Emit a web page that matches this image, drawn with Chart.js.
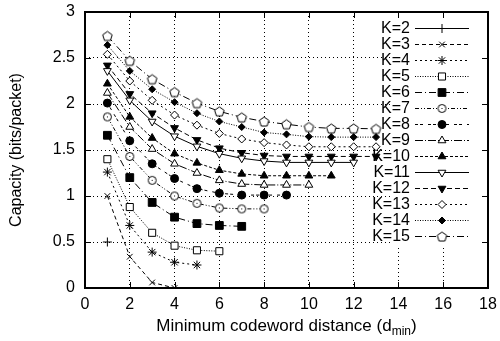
<!DOCTYPE html>
<html>
<head>
<meta charset="utf-8">
<script src="https://cdn.jsdelivr.net/npm/chart.js@4.4.1/dist/chart.umd.min.js"></script>
<style>
  html, body { margin: 0; padding: 0; background: #fff; }
  #wrap { width: 500px; height: 341px; }
</style>
</head>
<body>
<div id="wrap"><canvas id="cap_graph" width="500" height="341"></canvas></div>
<script>
// minimum codeword distance (x)
const dmin = [1, 2, 3, 4, 5, 6, 7, 8, 9, 10, 11, 12, 13];
const kLabels = ['K=2', 'K=3', 'K=4', 'K=5', 'K=6', 'K=7', 'K=8', 'K=9',
                 'K=10', 'K=11', 'K=12', 'K=13', 'K=14', 'K=15'];
// capacity (bits/packet), one array per K
const capK2  = [0.5];
const capK3  = [1.0, 0.34, 0.06, 0.0];
const capK4  = [1.26, 0.68, 0.39, 0.28, 0.25];
const capK5  = [1.40, 0.88, 0.60, 0.46, 0.41, 0.40];
const capK6  = [1.66, 1.20, 0.93, 0.77, 0.70, 0.68, 0.67];
const capK7  = [1.86, 1.43, 1.17, 1.00, 0.92, 0.87, 0.86, 0.86];
const capK8  = [2.01, 1.60, 1.35, 1.19, 1.08, 1.03, 1.01, 1.01, 1.01];
const capK9  = [2.12, 1.75, 1.51, 1.35, 1.25, 1.17, 1.13, 1.12, 1.12, 1.12];
const capK10 = [2.22, 1.86, 1.63, 1.46, 1.36, 1.28, 1.24, 1.22, 1.22, 1.22, 1.22];
const capK11 = [2.36, 2.04, 1.81, 1.65, 1.54, 1.46, 1.41, 1.38, 1.365, 1.365, 1.365, 1.365];
const capK12 = [2.42, 2.11, 1.90, 1.74, 1.61, 1.52, 1.47, 1.44, 1.43, 1.43, 1.43, 1.43, 1.43];
const capK13 = [2.54, 2.25, 2.04, 1.88, 1.77, 1.68, 1.62, 1.58, 1.555, 1.535, 1.535, 1.535, 1.535];
const capK14 = [2.64, 2.36, 2.16, 2.02, 1.90, 1.81, 1.75, 1.69, 1.67, 1.645, 1.64, 1.64, 1.64];
const capK15 = [2.74, 2.47, 2.27, 2.13, 2.01, 1.92, 1.855, 1.81, 1.78, 1.75, 1.735, 1.735, 1.73];

const xTicks = ['0', '2', '4', '6', '8', '10', '12', '14', '16', '18'];
const yTicks = ['0', '0.5', '1', '1.5', '2', '2.5', '3'];

const allCaps = [capK2, capK3, capK4, capK5, capK6, capK7, capK8, capK9,
                 capK10, capK11, capK12, capK13, capK14, capK15];

const FONT = '"Liberation Sans", Arial, Helvetica, sans-serif';

// small custom markers
function pentagonMarker() {
  const c = document.createElement('canvas');
  c.width = 13; c.height = 13;
  const g = c.getContext('2d');
  g.beginPath();
  for (let i = 0; i < 5; i++) {
    const a = -Math.PI / 2 + i * 2 * Math.PI / 5;
    const px = 6.5 + 5 * Math.cos(a), py = 7 + 5 * Math.sin(a);
    if (i === 0) g.moveTo(px, py); else g.lineTo(px, py);
  }
  g.closePath();
  g.fillStyle = '#fff'; g.fill();
  g.strokeStyle = '#000'; g.lineWidth = 1; g.stroke();
  return c;
}
function dotCircleMarker() {
  const c = document.createElement('canvas');
  c.width = 11; c.height = 11;
  const g = c.getContext('2d');
  g.beginPath(); g.arc(5.5, 5.5, 4, 0, Math.PI * 2);
  g.fillStyle = '#fff'; g.fill();
  g.strokeStyle = '#000'; g.lineWidth = 1; g.stroke();
  g.fillStyle = '#000'; g.fillRect(5, 5, 1, 1);
  return c;
}

// marker / dash style for each K
const styles = [
  { ps: 'cross',    r: 4.5, fill: '#000', dash: [] },
  { ps: 'crossRot', r: 4,   fill: '#000', dash: [4, 3] },
  { ps: 'star',     r: 4.5, fill: '#000', dash: [2, 3] },
  { ps: 'rect',     r: 5,   fill: '#fff', dash: [1, 1.5] },
  { ps: 'rect',     r: 5.5, fill: '#000', dash: [7, 3, 1, 3] },
  { ps: dotCircleMarker(), r: 4, fill: '#fff', dash: [4, 2, 1, 2, 1, 2] },
  { ps: 'circle',   r: 4,   fill: '#000', dash: [3, 2, 3, 5] },
  { ps: 'triangle', r: 4.5, fill: '#fff', dash: [8, 2, 1, 2] },
  { ps: 'triangle', r: 4.5, fill: '#000', dash: [3, 2] },
  { ps: 'triangle', r: 4.5, fill: '#fff', dash: [], rot: 180 },
  { ps: 'triangle', r: 4.5, fill: '#000', dash: [5, 3], rot: 180 },
  { ps: 'rectRot',  r: 4,   fill: '#fff', dash: [2, 3] },
  { ps: 'rectRot',  r: 3.5, fill: '#000', dash: [1, 1.5] },
  { ps: pentagonMarker(), r: 5, fill: '#fff', dash: [7, 3, 1, 3] }
];

const datasets = allCaps.map((vals, i) => ({
  label: kLabels[i],
  data: vals.map((v, j) => ({ x: dmin[j], y: v })),
  borderColor: '#000',
  borderWidth: 1,
  borderDash: styles[i].dash,
  pointStyle: styles[i].ps,
  pointRadius: styles[i].r,
  pointRotation: styles[i].rot || 0,
  pointBackgroundColor: styles[i].fill,
  pointBorderColor: '#000',
  pointBorderWidth: 1,
  tension: 0,
  fill: false
}));

// gnuplot style key, frame, inward ticks and axis titles
const gnuplotLook = {
  id: 'gnuplotLook',
  afterDraw(chart) {
    const ctx = chart.ctx;
    const a = chart.chartArea;
    const xs = chart.scales.x, ys = chart.scales.y;
    const L = Math.round(a.left), T = Math.round(a.top);
    const R = Math.round(a.right), B = Math.round(a.bottom);
    ctx.save();

    // key box (opaque)
    ctx.fillStyle = '#fff';
    ctx.fillRect(393, 18, R - 393 - 1, 227);

    ctx.font = '16px ' + FONT;
    ctx.textAlign = 'right';
    ctx.textBaseline = 'middle';
    chart.data.datasets.forEach((ds, i) => {
      const y = 28 + 16 * i;
      ctx.fillStyle = '#000';
      ctx.fillText(ds.label, 410, y + 1);
      ctx.strokeStyle = '#000';
      ctx.lineWidth = 1;
      ctx.setLineDash(ds.borderDash);
      ctx.beginPath();
      ctx.moveTo(415, y + 0.5);
      ctx.lineTo(469, y + 0.5);
      ctx.stroke();
      ctx.setLineDash([]);
      ctx.fillStyle = ds.pointBackgroundColor;
      ctx.strokeStyle = '#000';
      Chart.helpers.drawPoint(ctx, {
        pointStyle: ds.pointStyle,
        rotation: ds.pointRotation,
        radius: ds.pointRadius,
        borderWidth: 1
      }, 442, y + 0.5);
    });

    // frame, drawn as filled strips
    ctx.fillStyle = '#000';
    ctx.fillRect(L - 1, T - 1, R - L + 2, 2);
    ctx.fillRect(L - 1, B - 1, R - L + 2, 2);
    ctx.fillRect(L - 1, T - 1, 2, B - T + 2);
    ctx.fillRect(R - 1, T - 1, 2, B - T + 2);

    // inward tick marks on all four sides
    xs.ticks.forEach(t => {
      const px = Math.round(xs.getPixelForValue(t.value));
      ctx.fillRect(px, B - 6, 1, 6);
      ctx.fillRect(px, T, 1, 6);
    });
    ys.ticks.forEach(t => {
      const py = Math.round(ys.getPixelForValue(t.value));
      ctx.fillRect(L, py, 6, 1);
      ctx.fillRect(R - 6, py, 6, 1);
    });

    // x axis title with subscript
    ctx.fillStyle = '#000';
    ctx.textBaseline = 'alphabetic';
    ctx.textAlign = 'left';
    const main = 'Minimum codeword distance (d';
    const sub = 'min';
    const close = ')';
    ctx.font = '17px ' + FONT;
    const wMain = ctx.measureText(main).width;
    const wClose = ctx.measureText(close).width;
    ctx.font = '12px ' + FONT;
    const wSub = ctx.measureText(sub).width;
    const x0 = (L + R) / 2 - (wMain + wSub + wClose) / 2;
    const base = 331;
    ctx.font = '17px ' + FONT;
    ctx.fillText(main, x0, base);
    ctx.font = '12px ' + FONT;
    ctx.fillText(sub, x0 + wMain, base + 4);
    ctx.font = '17px ' + FONT;
    ctx.fillText(close, x0 + wMain + wSub, base);

    // y axis title
    ctx.translate(17, (T + B) / 2);
    ctx.rotate(-Math.PI / 2);
    ctx.textAlign = 'center';
    ctx.textBaseline = 'middle';
    ctx.font = '16px ' + FONT;
    ctx.fillText('Capacity (bits/packet)', 0, 0);
    ctx.restore();
  }
};

const ctx = document.getElementById('cap_graph').getContext('2d');
const chart = new Chart(ctx, {
  type: 'line',
  data: { datasets: datasets },
  options: {
    responsive: false,
    animation: false,
    layout: { padding: { top: 12, right: 12, left: 0, bottom: 0 } },
    plugins: {
      legend: { display: false },
      tooltip: { enabled: false }
    },
    scales: {
      x: {
        type: 'linear',
        min: 0, max: 18,
        ticks: {
          stepSize: 2,
          color: '#000',
          padding: 7,
          maxRotation: 0,
          font: { family: FONT, size: 16 },
          callback: (v, i) => xTicks[i]
        },
        grid: { color: '#000', lineWidth: 1, drawTicks: false },
        border: { display: false, dash: [1, 3] },
        afterFit: (s) => { s.height = 53; s.paddingLeft = 0; s.paddingRight = 0; }
      },
      y: {
        min: 0, max: 3,
        ticks: {
          stepSize: 0.5,
          color: '#000',
          padding: 10,
          font: { family: FONT, size: 16 },
          callback: (v, i) => yTicks[i]
        },
        grid: { color: '#000', lineWidth: 1, drawTicks: false },
        border: { display: false, dash: [1, 3] },
        afterFit: (s) => { s.width = 85; s.paddingTop = 0; s.paddingBottom = 0; }
      }
    }
  },
  plugins: [gnuplotLook]
});
</script>
</body>
</html>
